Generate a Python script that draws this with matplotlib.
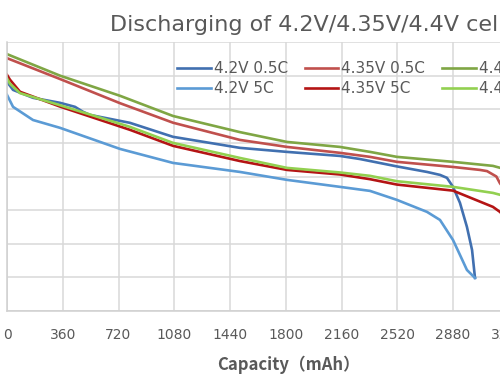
import numpy as np
import matplotlib
matplotlib.use("Agg")
import matplotlib.pyplot as plt

# Discharge curves (capacity in mAh, voltage in V)
cap_44_05 = [0, 342, 730, 1072, 1504, 1808, 2150, 2344, 2518, 2880, 3138, 3230]
v_44_05 = [4.41, 4.25, 4.10, 3.95, 3.83, 3.757, 3.72, 3.683, 3.646, 3.609, 3.579, 3.55]

cap_435_05 = [0, 342, 730, 1072, 1504, 1808, 2150, 2344, 2518, 2880, 3054, 3100,
              3160, 3183, 3230]
v_435_05 = [4.38, 4.225, 4.045, 3.90, 3.772, 3.72, 3.676, 3.646, 3.609, 3.571, 3.549,
            3.54, 3.50, 3.45, 3.38]

cap_435_5 = [0, 19, 84, 342, 794, 1072, 1504, 1808, 2150, 2344, 2518, 2880, 3138,
             3183, 3230]
v_435_5 = [4.256, 4.22, 4.13, 4.02, 3.847, 3.728, 3.615, 3.549, 3.515, 3.48, 3.44,
           3.395, 3.274, 3.237, 3.18]

cap_44_5 = [0, 19, 84, 342, 794, 1072, 1504, 1808, 2150, 2344, 2518, 2880, 3138, 3230]
v_44_5 = [4.23, 4.19, 4.12, 4.03, 3.869, 3.75, 3.638, 3.564, 3.53, 3.505, 3.465,
          3.423, 3.378, 3.35]

cap_42_05 = [0, 39, 168, 342, 439, 491, 536, 794, 1072, 1504, 1808, 2150, 2279,
             2518, 2712, 2796, 2841, 2880, 2925, 2970, 3003, 3022]
v_42_05 = [4.204, 4.144, 4.085, 4.048, 4.018, 3.981, 3.958, 3.899, 3.795, 3.713,
           3.683, 3.653, 3.63, 3.575, 3.534, 3.512, 3.49, 3.423, 3.304, 3.125, 2.954, 2.746]

cap_42_5 = [0, 39, 168, 342, 730, 1072, 1504, 1808, 2150, 2344, 2518, 2712, 2796,
            2880, 2925, 2970, 3022]
v_42_5 = [4.107, 4.018, 3.92, 3.862, 3.705, 3.601, 3.534, 3.475, 3.423, 3.393, 3.326,
          3.237, 3.177, 3.028, 2.917, 2.805, 2.746]

x_ticks = np.arange(0, 3601, 360)
y_ticks = np.arange(2.5, 4.51, 0.25)

fig = plt.figure(figsize=(5, 3.83), dpi=100)
# the picture is a crop of a wider chart: the axes run past the right edge
ax = fig.add_axes([0.014, 0.188, 1.115, 0.7023])

lw = 1.9
l1, = ax.plot(cap_42_05, v_42_05, color='#4170B0', lw=lw, label='4.2V 0.5C')
l2, = ax.plot(cap_42_5, v_42_5, color='#5B9BD5', lw=lw, label='4.2V 5C')
l3, = ax.plot(cap_435_05, v_435_05, color='#C0504D', lw=lw, label='4.35V 0.5C')
l4, = ax.plot(cap_435_5, v_435_5, color='#B41414', lw=lw, label='4.35V 5C')
l5, = ax.plot(cap_44_05, v_44_05, color='#7FA644', lw=lw, label='4.4V 0.5C')
l6, = ax.plot(cap_44_5, v_44_5, color='#92D050', lw=lw, label='4.4V 5C')

ax.set_xlim(0, 3600)
ax.set_ylim(2.5, 4.5)
ax.set_xticks(x_ticks)
ax.set_yticks(y_ticks)
ax.grid(True, color='#D9D9D9', lw=1.1)
ax.set_axisbelow(True)
for side in ['top', 'right']:
    ax.spines[side].set_visible(False)
for side in ['left', 'bottom']:
    ax.spines[side].set_color('#D0D0D0')
    ax.spines[side].set_linewidth(1.1)
ax.tick_params(length=0, labelleft=False, labelsize=10, labelcolor='#595959', pad=12)

ax.set_xlabel('Capacity（mAh）', family=['Noto Sans CJK SC', 'DejaVu Sans'],
              fontsize=12, fontweight='bold', color='#595959')
# xlabel centred on the visible part of the chart
ax.xaxis.set_label_coords(281 / 557.5, -0.165, transform=ax.transAxes)

fig.text(0.22, 0.935, 'Discharging of 4.2V/4.35V/4.4V cells', fontsize=16,
         color='#595959', ha='left', va='center')

ax.legend(handles=[l1, l2, l3, l4, l5, l6], ncol=3, frameon=False,
          loc='upper left', bbox_to_anchor=(177 / 500, 1 - 61 / 383),
          bbox_transform=fig.transFigure, fontsize=11, labelcolor='#595959',
          handlelength=2.2, handletextpad=0.2, columnspacing=1.1,
          labelspacing=0.35, borderaxespad=0, borderpad=0)

fig.savefig('out.png', dpi=100)
